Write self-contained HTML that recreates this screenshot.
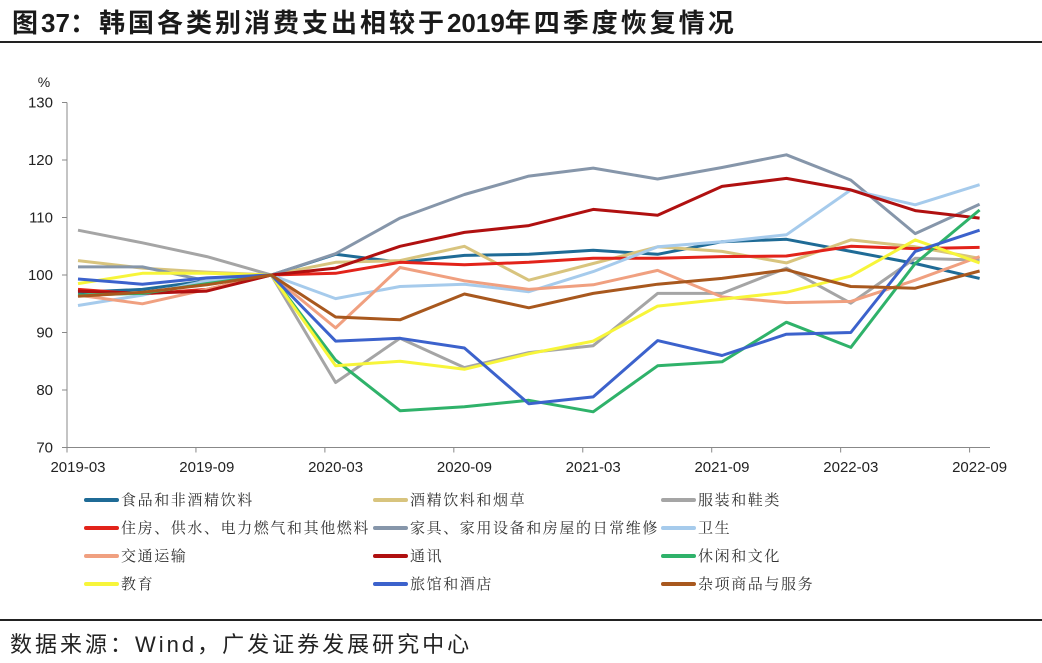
<!DOCTYPE html>
<html><head><meta charset="utf-8">
<style>
body{margin:0;background:#fff;}
#wrap{position:relative;width:1042px;height:663px;overflow:hidden;font-family:"Liberation Sans","Noto Sans CJK SC",sans-serif;}
#title{position:absolute;left:12px;top:3px;font-size:26px;font-weight:bold;color:#1a1a1a;white-space:nowrap;letter-spacing:3px;}
#title .n{font-family:"Liberation Sans",sans-serif;letter-spacing:0;}
.hr{position:absolute;left:0;width:1042px;height:2px;background:#222;}
#foot{position:absolute;left:10px;top:627px;font-size:22px;color:#222;white-space:nowrap;letter-spacing:3px;}
</style></head><body>
<div id="wrap">
<div id="title">图<span class="n">37</span>：韩国各类别消费支出相较于<span class="n">2019</span>年四季度恢复情况</div>
<div class="hr" style="top:41px"></div>
<svg id="chart" width="1042" height="663" style="position:absolute;left:0;top:0"></svg>
<div class="hr" style="top:619px"></div>
<div id="foot">数据来源：Wind，广发证券发展研究中心</div>
</div>
<script>
const categories=["2019-03","2019-06","2019-09","2019-12","2020-03","2020-06","2020-09","2020-12","2021-03","2021-06","2021-09","2021-12","2022-03","2022-06","2022-09"];
const tickLabels=["2019-03","2019-09","2020-03","2020-09","2021-03","2021-09","2022-03","2022-09"];
const yTicks=[70,80,90,100,110,120,130];
const seriesNames=["食品和非酒精饮料","酒精饮料和烟草","服装和鞋类","住房、供水、电力燃气和其他燃料","家具、家用设备和房屋的日常维修","卫生","交通运输","通讯","休闲和文化","教育","旅馆和酒店","杂项商品与服务"];
const seriesColors=["#1F6B96","#D8C47E","#A5A5A5","#E2231A","#8696AA","#A6CBEC","#F0A080","#B01010","#2FB26A","#F7F53A","#3C62CC","#A8581E"];
const sFood=[97,97.5,99,100,103.6,102.2,103.4,103.6,104.3,103.6,105.8,106.2,104.1,102,99.4];
const sAlcohol=[102.5,101.2,100.5,100,102.2,102.5,105,99.1,102,104.9,104.1,102.1,106.1,104.9,102.9];
const sClothing=[107.8,105.6,103.2,100,81.3,89,83.9,86.5,87.7,96.8,96.8,101.2,95.1,102.9,102.6];
const sHousing=[97.5,96.7,97.5,100,100.3,102.2,101.8,102.2,102.9,102.9,103.2,103.3,105,104.6,104.8];
const sFurnish=[101.4,101.4,99,100,103.7,109.9,114,117.2,118.6,116.7,118.7,120.9,116.5,107.2,112.3];
const sHealth=[94.7,96.5,99,100,95.9,98,98.4,97.1,100.6,104.9,105.8,107,114.8,112.2,115.7];
const sTransport=[96.5,95,97.5,100,90.8,101.3,99,97.5,98.3,100.8,96.2,95.2,95.4,99.1,103.2];
const sComm=[97.2,96.8,97.2,100,101.2,105,107.4,108.6,111.4,110.4,115.4,116.8,114.8,111.2,109.9];
const sLeisure=[96.5,96.8,98.5,100,85.2,76.4,77.1,78.2,76.2,84.2,84.9,91.8,87.4,102,111.3];
const sEducation=[98.5,100.3,100.3,100,84.2,85,83.6,86.3,88.5,94.6,95.8,97,99.8,106.1,102.1];
const sHotel=[99.3,98.4,99.5,100,88.5,89,87.3,77.6,78.8,88.6,86,89.7,90,104.1,107.8];
const sMisc=[96.3,97,98.3,100,92.7,92.2,96.7,94.3,96.8,98.4,99.4,100.9,98,97.7,100.7];
const seriesValues=[sFood,sAlcohol,sClothing,sHousing,sFurnish,sHealth,sTransport,sComm,sLeisure,sEducation,sHotel,sMisc];

const NS="http://www.w3.org/2000/svg";
const svg=document.getElementById('chart');
const x0=78,dx=64.4,yTop=102.5,yBot=447.5,vMin=70,vMax=130;
function xScale(i){return x0+i*dx;}
function yScale(v){return yBot-(v-vMin)/(vMax-vMin)*(yBot-yTop);}
function mk(tag,attrs){const e=document.createElementNS(NS,tag);for(const k in attrs)e.setAttribute(k,attrs[k]);svg.appendChild(e);return e;}

let ya=mk('line',{x1:67,y1:yTop,x2:67,y2:yBot,stroke:'#888','stroke-width':1});


yTicks.forEach(v=>{
  const t=mk('line',{x1:62,y1:yScale(v),x2:67,y2:yScale(v),stroke:'#888'});
  
  
  const l=mk('text',{x:53,y:yScale(v)+5,'text-anchor':'end','font-size':15,fill:'#222','font-family':'Liberation Sans, sans-serif'});
  l.textContent=v;
  
  
});
const pct=mk('text',{x:44,y:87,'text-anchor':'middle','font-size':14,fill:'#222','font-family':'Liberation Sans, sans-serif'});
pct.textContent='%';



const xa=mk('line',{x1:67,y1:yBot,x2:990,y2:yBot,stroke:'#888'});


tickLabels.forEach(lab=>{
  const i=categories.indexOf(lab);
  const tx=xScale(i)-11+(i/14)*1;
  const t=mk('line',{x1:tx,y1:yBot,x2:tx,y2:yBot+5,stroke:'#888'});
  
  
  const l=mk('text',{x:xScale(i),y:472,'text-anchor':'middle','font-size':15,fill:'#222','font-family':'Liberation Sans, sans-serif'});
  l.textContent=lab;
  
  
});

seriesValues.forEach((vals,s)=>{
  const pts=vals.map((v,i)=>xScale(i).toFixed(1)+','+yScale(v).toFixed(1)).join(' ');
  const p=mk('polyline',{points:pts,fill:'none',stroke:seriesColors[s],'stroke-width':3,'stroke-linejoin':'round'});
  
  
});

const colX=[86,375,663],rowY=[500,528,556,584];
seriesNames.forEach((n,s)=>{
  const cx=colX[s%3],cy=rowY[Math.floor(s/3)];
  const l=mk('line',{x1:cx,y1:cy,x2:cx+31,y2:cy,stroke:seriesColors[s],'stroke-width':4,'stroke-linecap':'round'});
  
  
  const t=mk('text',{x:cx+35,y:cy+5,'font-size':15,fill:'#333','letter-spacing':'1.6','font-family':'Liberation Sans, Noto Serif CJK SC, sans-serif'});
  t.textContent=n;
  
  
});
</script>
</body></html>
